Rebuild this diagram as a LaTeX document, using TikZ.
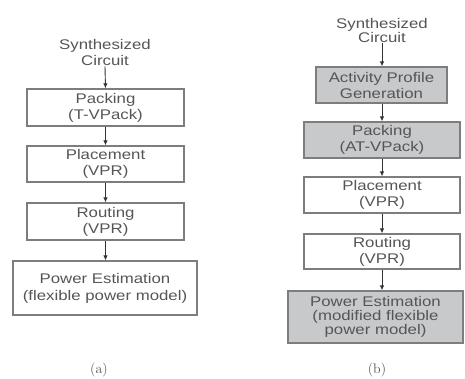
\documentclass[tikz,border=0pt]{standalone}
\usepackage{fontspec}
\setmainfont{Liberation Sans}[FakeStretch=1.2]
\newfontfamily\capfont{Latin Modern Roman}
\usetikzlibrary{arrows.meta}
\definecolor{txtgray}{RGB}{85,85,85}
\definecolor{edgegray}{RGB}{125,125,125}
\definecolor{boxfill}{RGB}{200,201,203}
\definecolor{arrowcol}{RGB}{50,50,50}
\begin{document}
\begin{tikzpicture}[x=1pt,y=-1pt,
  lbl/.style={text=txtgray,align=center,inner sep=1pt,font=\fontsize{14}{16}\selectfont},
  stepbox/.style={draw=edgegray,line width=1.3pt,text=txtgray,align=center,inner sep=0pt,
    font=\fontsize{14}{16}\selectfont},
  tight/.style={font=\fontsize{14}{14}\selectfont},
  graybox/.style={stepbox,fill=boxfill},
  flow/.style={draw=arrowcol,line width=0.9pt,-{Latex[length=5pt,width=4.5pt]}},
  captext/.style={text=txtgray,font=\capfont\fontsize{14}{16}\selectfont,inner sep=0pt}]
\useasboundingbox (0,0) rectangle (465,378);
% (a)
\node[lbl] (synL) at (105,52) {Synthesized\\Circuit};
\node[stepbox,minimum width=157pt,minimum height=37pt] (packL) at (105.5,107.5) {Packing\\(T-VPack)};
\node[stepbox,minimum width=157pt,minimum height=36pt] (placeL) at (105.5,164) {Placement\\(VPR)};
\node[stepbox,minimum width=157pt,minimum height=37pt] (routL) at (105.5,221.5) {Routing\\(VPR)};
\node[stepbox,minimum width=184pt,minimum height=54pt,font=\fontsize{14}{17}\selectfont] (powL) at (105,288) {Power Estimation\\(flexible power model)};
\node[captext] (capA) at (99,370) {(a)};
\draw[flow] (synL.south) -- (packL.north);
\draw[flow] (packL.south) -- (placeL.north);
\draw[flow] (placeL.south) -- (routL.north);
\draw[flow] (routL.south) -- (routL.south |- powL.north);
% (b)
\node[lbl,tight] (synR) at (382,30) {Synthesized\\Circuit};
\node[graybox,minimum width=131pt,minimum height=36pt] (actR) at (381.5,85) {Activity Profile\\Generation};
\node[graybox,minimum width=156pt,minimum height=36pt] (packR) at (382,140) {Packing\\(AT-VPack)};
\node[stepbox,minimum width=156pt,minimum height=36pt] (placeR) at (382,195) {Placement\\(VPR)};
\node[stepbox,minimum width=156pt,minimum height=35pt] (routR) at (382,251.5) {Routing\\(VPR)};
\node[graybox,tight,minimum width=175pt,minimum height=52pt] (powR) at (375.5,317) {Power Estimation\\(modified flexible\\power model)};
\node[captext] (capB) at (377,370) {(b)};
\draw[flow] (synR.south) -- (synR.south |- actR.north);
\draw[flow] (actR.south -| packR.north) -- (packR.north);
\draw[flow] (packR.south) -- (placeR.north);
\draw[flow] (placeR.south) -- (routR.north);
\draw[flow] (routR.south) -- (routR.south |- powR.north);
\end{tikzpicture}
\end{document}
